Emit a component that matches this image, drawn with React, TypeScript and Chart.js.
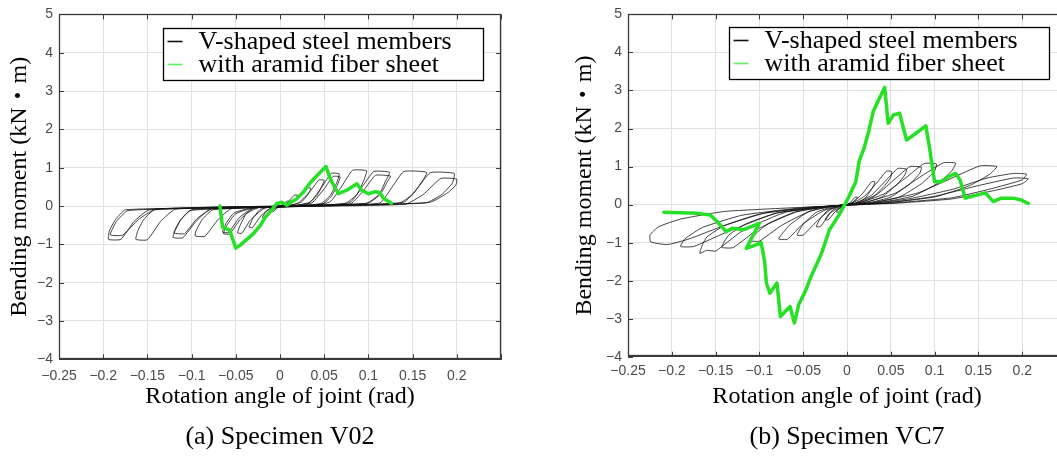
import { useEffect, useRef } from "react";
import { Chart, registerables } from "chart.js";

Chart.register(...registerables);

// ---------- text ----------
const legendLabels = ["V-shaped steel members", "with aramid fiber sheet"];
const xAxisTitle = "Rotation angle of joint (rad)";
const yAxisTitle = "Bending moment (kN・m)";
const captionV02 = "(a) Specimen V02";
const captionVC7 = "(b) Specimen VC7";

// ---------- axes ----------
const xMin = -0.25;
const xMax = 0.25;
const xStep = 0.05;
const yMin = -4;
const yMax = 5;
const yStep = 1;
const hiddenXTickLabels = [0.25];

// ---------- data: Specimen V02 ----------
const v02Steel: [number, number][] = [
  [0, 0], [0.005, 0.03], [0.01, 0.12], [0.008, 0.13], [0.003, 0.04], [0, -0.01], [-0.005, -0.04], [-0.01, -0.14], [-0.008, -0.15], [-0.003, -0.05], [0, 0],
  [0.008, 0.02], [0.015, 0.1], [0.02, 0.28], [0.016, 0.28], [0.008, 0.08], [0, 0], [-0.008, -0.03], [-0.015, -0.12], [-0.02, -0.3], [-0.016, -0.31], [-0.008, -0.1], [0, -0.01],
  [0.012, 0.02], [0.024, 0.1], [0.031, 0.28], [0.035, 0.46], [0.03, 0.47], [0.02, 0.2], [0.008, 0.03], [-0.01, -0.02], [-0.022, -0.08], [-0.03, -0.3], [-0.035, -0.55], [-0.031, -0.56], [-0.021, -0.24], [-0.008, -0.03],
  [0.015, 0.01], [0.032, 0.07], [0.042, 0.28], [0.048, 0.55], [0.05, 0.67], [0.044, 0.68], [0.034, 0.38], [0.02, 0.07], [0, -0.02], [-0.024, -0.04], [-0.038, -0.2], [-0.045, -0.5], [-0.048, -0.7], [-0.043, -0.71], [-0.034, -0.38], [-0.018, -0.06], [0, 0],
  [0.018, 0.01], [0.046, 0.06], [0.057, 0.28], [0.064, 0.6], [0.067, 0.84], [0.058, 0.85], [0.048, 0.52], [0.034, 0.1], [0.01, -0.01], [-0.03, -0.05], [-0.05, -0.2], [-0.06, -0.5], [-0.064, -0.72], [-0.057, -0.73], [-0.045, -0.35], [-0.03, -0.06], [0, -0.01],
  [0.02, 0.01], [0.048, 0.05], [0.058, 0.25], [0.065, 0.55], [0.068, 0.76], [0.06, 0.77], [0.05, 0.45], [0.036, 0.08], [0.01, -0.01], [-0.032, -0.05], [-0.052, -0.18], [-0.061, -0.45], [-0.065, -0.68], [-0.058, -0.69], [-0.046, -0.3], [-0.03, -0.05], [0, -0.01],
  [0.03, 0.01], [0.074, 0.07], [0.087, 0.3], [0.095, 0.68], [0.098, 0.92], [0.082, 0.93], [0.07, 0.52], [0.056, 0.1], [0.02, 0], [-0.04, -0.05], [-0.076, -0.1], [-0.088, -0.35], [-0.095, -0.65], [-0.096, -0.78], [-0.085, -0.79], [-0.07, -0.35], [-0.055, -0.07], [0, -0.01],
  [0.04, 0.02], [0.098, 0.07], [0.112, 0.3], [0.12, 0.68], [0.124, 0.88], [0.106, 0.9], [0.093, 0.5], [0.079, 0.09], [0.03, 0], [-0.05, -0.05], [-0.1, -0.1], [-0.112, -0.35], [-0.119, -0.66], [-0.121, -0.82], [-0.11, -0.83], [-0.095, -0.4], [-0.078, -0.07], [0, -0.01],
  [0.045, 0.02], [0.1, 0.08], [0.114, 0.32], [0.121, 0.62], [0.125, 0.78], [0.108, 0.8], [0.095, 0.42], [0.08, 0.06], [0.03, 0], [-0.05, -0.06], [-0.102, -0.12], [-0.113, -0.38], [-0.12, -0.7], [-0.108, -0.72], [-0.094, -0.33], [-0.076, -0.06], [0, -0.01],
  [0.05, 0.02], [0.134, 0.07], [0.15, 0.3], [0.161, 0.65], [0.166, 0.88], [0.14, 0.9], [0.127, 0.5], [0.113, 0.08], [0.04, 0], [-0.06, -0.05], [-0.142, -0.1], [-0.154, -0.35], [-0.161, -0.66], [-0.163, -0.87], [-0.15, -0.88], [-0.135, -0.4], [-0.118, -0.08], [0, -0.01],
  [0.06, 0.02], [0.165, 0.08], [0.183, 0.3], [0.195, 0.6], [0.197, 0.85], [0.17, 0.87], [0.155, 0.45], [0.14, 0.1], [0.05, 0], [-0.07, -0.05], [-0.175, -0.1], [-0.186, -0.35], [-0.193, -0.65], [-0.194, -0.87], [-0.18, -0.87], [-0.165, -0.4], [-0.148, -0.1], [-0.05, -0.02],
  [0.08, 0.02], [0.17, 0.1], [0.19, 0.35], [0.199, 0.55], [0.2, 0.7], [0.182, 0.72], [0.162, 0.3], [0.142, 0.05], [0.06, 0], [-0.08, -0.05], [-0.172, -0.12], [-0.185, -0.4], [-0.192, -0.75], [-0.178, -0.76], [-0.16, -0.35], [-0.14, -0.08], [0, 0],
];

const v02Aramid: [number, number][] = [
  [-0.068, 0.0], [-0.065, -0.55], [-0.057, -0.63], [-0.05, -1.1], [-0.045, -1.02], [-0.03, -0.72], [-0.022, -0.5], [-0.017, -0.3],
  [-0.01, -0.12], [-0.004, 0.06], [0.002, 0.1], [0.008, 0.02], [0.012, 0.1], [0.018, 0.17], [0.026, 0.35], [0.034, 0.6], [0.04, 0.75],
  [0.052, 1.03], [0.057, 0.7], [0.066, 0.32], [0.076, 0.42], [0.087, 0.58], [0.092, 0.42], [0.1, 0.32], [0.107, 0.37], [0.113, 0.35],
  [0.117, 0.2], [0.126, 0.07],
];

// ---------- data: Specimen VC7 ----------
const vc7Steel: [number, number][] = [
  [0, 0], [0.006, 0.05], [0.011, 0.15], [0.012, 0.2], [0.009, 0.19], [0.004, 0.06], [0, 0], [-0.006, -0.06], [-0.011, -0.16], [-0.012, -0.2], [-0.009, -0.19], [-0.004, -0.06], [0, 0],
  [0.01, 0.04], [0.02, 0.15], [0.028, 0.4], [0.032, 0.6], [0.028, 0.6], [0.018, 0.3], [0.006, 0.05], [-0.005, -0.03], [-0.015, -0.12], [-0.022, -0.28], [-0.025, -0.4], [-0.021, -0.39], [-0.012, -0.15], [0, 0],
  [0.015, 0.05], [0.03, 0.2], [0.043, 0.5], [0.05, 0.72], [0.051, 0.87], [0.045, 0.88], [0.035, 0.6], [0.02, 0.22], [0.005, 0.03], [-0.01, -0.04], [-0.022, -0.15], [-0.031, -0.38], [-0.035, -0.58], [-0.03, -0.57], [-0.018, -0.2], [0, 0],
  [0.02, 0.05], [0.04, 0.2], [0.058, 0.55], [0.066, 0.78], [0.068, 0.93], [0.058, 0.95], [0.045, 0.65], [0.028, 0.25], [0.008, 0.03], [-0.015, -0.05], [-0.035, -0.2], [-0.05, -0.52], [-0.057, -0.8], [-0.05, -0.8], [-0.035, -0.45], [-0.018, -0.12], [0, 0],
  [0.025, 0.05], [0.05, 0.2], [0.072, 0.55], [0.083, 0.82], [0.085, 0.98], [0.072, 1.0], [0.055, 0.68], [0.035, 0.28], [0.01, 0.03], [-0.02, -0.05], [-0.045, -0.2], [-0.066, -0.55], [-0.078, -0.9], [-0.068, -0.91], [-0.05, -0.5], [-0.025, -0.14], [0, 0],
  [0.03, 0.05], [0.06, 0.2], [0.085, 0.55], [0.1, 0.88], [0.102, 1.07], [0.088, 1.08], [0.068, 0.72], [0.042, 0.28], [0.012, 0.03], [-0.025, -0.06], [-0.06, -0.2], [-0.09, -0.5], [-0.105, -0.78], [-0.11, -0.95], [-0.1, -0.96], [-0.075, -0.55], [-0.04, -0.15], [0, 0],
  [0.035, 0.05], [0.075, 0.22], [0.105, 0.58], [0.12, 0.9], [0.124, 1.09], [0.11, 1.1], [0.085, 0.75], [0.055, 0.3], [0.015, 0.03], [-0.03, -0.06], [-0.08, -0.22], [-0.115, -0.5], [-0.135, -0.8], [-0.143, -1.12], [-0.13, -1.13], [-0.1, -0.62], [-0.055, -0.17], [0, 0],
  [0.04, 0.04], [0.1, 0.2], [0.14, 0.5], [0.163, 0.8], [0.171, 1.0], [0.152, 1.02], [0.12, 0.7], [0.08, 0.3], [0.02, 0.02], [-0.04, -0.07], [-0.1, -0.25], [-0.14, -0.55], [-0.16, -0.85], [-0.165, -1.05], [-0.168, -1.28], [-0.16, -1.2], [-0.15, -1.22], [-0.12, -0.7], [-0.07, -0.2], [0, 0],
  [0.05, 0.04], [0.12, 0.18], [0.165, 0.42], [0.2, 0.65], [0.205, 0.8], [0.19, 0.82], [0.16, 0.7], [0.12, 0.4], [0.07, 0.15], [0.02, 0.01], [-0.05, -0.08], [-0.12, -0.28], [-0.165, -0.6], [-0.185, -0.9], [-0.19, -1.1], [-0.175, -1.1], [-0.14, -0.75], [-0.08, -0.22], [0, 0],
  [0.05, 0.03], [0.12, 0.15], [0.17, 0.38], [0.2, 0.55], [0.207, 0.68], [0.19, 0.7], [0.15, 0.5], [0.1, 0.22], [0.04, 0.03], [-0.06, -0.08], [-0.14, -0.18], [-0.19, -0.38], [-0.215, -0.58], [-0.225, -0.8], [-0.224, -0.98], [-0.205, -1.05], [-0.18, -0.9], [-0.14, -0.55], [-0.09, -0.2], [0, 0],
];

const vc7Aramid: [number, number][] = [
  [-0.209, -0.2], [-0.17, -0.23], [-0.156, -0.27], [-0.148, -0.45], [-0.138, -0.71], [-0.131, -0.62], [-0.118, -0.66], [-0.1, -0.49],
  [-0.115, -1.15], [-0.103, -1.05], [-0.098, -1.0], [-0.094, -1.5], [-0.092, -2.06], [-0.088, -2.33], [-0.08, -2.06], [-0.076, -2.94],
  [-0.065, -2.68], [-0.06, -3.11], [-0.055, -2.62], [-0.048, -2.3], [-0.041, -1.89], [-0.029, -1.28], [-0.02, -0.66], [-0.008, -0.23],
  [0.002, 0.2], [0.01, 0.6], [0.014, 1.15], [0.02, 1.52], [0.025, 1.95], [0.03, 2.45], [0.036, 2.75], [0.043, 3.08], [0.047, 2.14],
  [0.053, 2.36], [0.06, 2.4], [0.068, 1.7], [0.076, 1.83], [0.09, 2.07], [0.094, 1.52], [0.1, 0.6], [0.107, 0.6], [0.117, 0.75],
  [0.124, 0.82], [0.129, 0.65], [0.135, 0.17], [0.148, 0.25], [0.158, 0.31], [0.167, 0.08], [0.176, 0.17], [0.19, 0.17], [0.199, 0.12],
  [0.207, 0.03],
];

// ---------- styles ----------
const SERIF = "'Liberation Serif', 'Noto Sans CJK JP', serif";
const SANS = "'Liberation Sans', Arial, sans-serif";
const STEEL_COLOR = "rgba(20,20,20,0.8)";
const ARAMID_COLOR = "#25e025";
const GRID_COLOR = "#e0e0e0";
const FRAME_COLOR = "#3a3a3a";
const TICK_COLOR = "#4a4a4a";

type PanelLayout = {
  pageLeft: number;
  width: number;
  padLeft: number;
  padRight: number;
  padTop: number;
  yWidth: number;
  xHeight: number;
  xTickPad: number;
  legendTop: number;
  legendRight: number;
  legendWidth: number;
};

const layoutV02: PanelLayout = {
  pageLeft: 0, width: 520, padLeft: 0, padRight: 19, padTop: 13, yWidth: 59, xHeight: 62.5, xTickPad: 8,
  legendTop: 14, legendRight: 18, legendWidth: 320,
};
const layoutVC7: PanelLayout = {
  pageLeft: 520, width: 560, padLeft: 45, padRight: 14, padTop: 14, yWidth: 63, xHeight: 65, xTickPad: 6,
  legendTop: 13, legendRight: 17, legendWidth: 320,
};

const fmt = (v: number) => {
  const r = Math.round(v * 100) / 100;
  const s = String(Math.abs(r));
  return r < 0 ? "\u2212" + s : s;
};

const frameTicksPlugin = {
  id: "frameTicks",
  afterDatasetsDraw(chart: any) {
    const { ctx, chartArea, scales } = chart;
    const { left, right, top, bottom } = chartArea;
    const xs = scales.x;
    const ys = scales.y;
    ctx.save();
    ctx.strokeStyle = FRAME_COLOR;
    ctx.lineWidth = 1;
    ctx.beginPath();
    xs.ticks.forEach((t: any) => {
      const p = Math.round(xs.getPixelForValue(t.value)) + 0.5;
      ctx.moveTo(p, bottom);
      ctx.lineTo(p, bottom - 5);
      ctx.moveTo(p, top);
      ctx.lineTo(p, top + 5);
    });
    ys.ticks.forEach((t: any) => {
      const p = Math.round(ys.getPixelForValue(t.value)) + 0.5;
      ctx.moveTo(left, p);
      ctx.lineTo(left + 5, p);
      ctx.moveTo(right, p);
      ctx.lineTo(right - 5, p);
    });
    ctx.stroke();
    ctx.lineWidth = 1.3;
    ctx.strokeRect(Math.round(left) + 0.5, Math.round(top) + 0.5, Math.round(right - left) - 1, Math.round(bottom - top) - 1);
    ctx.restore();
  },
};

const boxLegendPlugin = {
  id: "boxLegend",
  afterDraw(chart: any, _args: any, opts: any) {
    const { ctx, chartArea } = chart;
    const w = opts.width;
    const h = 52;
    const x0 = Math.round(chartArea.right - opts.right - w) + 0.5;
    const y0 = Math.round(chartArea.top + opts.top) + 0.5;
    ctx.save();
    ctx.fillStyle = "#ffffff";
    ctx.fillRect(x0, y0, w, h);
    ctx.strokeStyle = "#000000";
    ctx.lineWidth = 1.3;
    ctx.strokeRect(x0, y0, w, h);
    ctx.font = `26px ${SERIF}`;
    ctx.textBaseline = "middle";
    ctx.textAlign = "left";
    chart.data.datasets.forEach((ds: any, i: number) => {
      const cy = y0 + 13 + i * 23;
      ctx.strokeStyle = i === 0 ? "#111111" : "#5ef05e";
      ctx.lineWidth = 1.6;
      ctx.beginPath();
      ctx.moveTo(x0 + 4, cy);
      ctx.lineTo(x0 + 19, cy);
      ctx.stroke();
      ctx.fillStyle = "#000000";
      ctx.fillText(ds.label, x0 + 35, cy + 1);
    });
    ctx.restore();
  },
};

function Panel({ layout, steel, aramid, caption }: { layout: PanelLayout; steel: [number, number][]; aramid: [number, number][]; caption: string }) {
  const ref = useRef<HTMLCanvasElement>(null);
  useEffect(() => {
    const chart = new Chart(ref.current as HTMLCanvasElement, {
      type: "scatter",
      data: {
        datasets: [
          {
            label: legendLabels[0],
            data: steel.map(([x, y]) => ({ x, y })),
            showLine: true,
            borderColor: STEEL_COLOR,
            borderWidth: 1,
            pointRadius: 0,
            tension: 0.15,
            order: 2,
          },
          {
            label: legendLabels[1],
            data: aramid.map(([x, y]) => ({ x, y })),
            showLine: true,
            borderColor: ARAMID_COLOR,
            borderWidth: 3.5,
            pointRadius: 0,
            tension: 0,
            borderJoinStyle: "round",
            borderCapStyle: "round",
            order: 1,
          },
        ],
      },
      options: {
        responsive: false,
        animation: false,
        devicePixelRatio: 1,
        layout: { padding: { left: layout.padLeft, right: layout.padRight, top: layout.padTop, bottom: 0 } },
        scales: {
          x: {
            type: "linear",
            min: xMin,
            max: xMax,
            afterFit: (s: any) => { s.height = layout.xHeight; },
            ticks: {
              stepSize: xStep,
              autoSkip: false,
              maxRotation: 0,
              padding: layout.xTickPad,
              color: TICK_COLOR,
              font: { family: SANS, size: 14 },
              callback: (v: any) => (hiddenXTickLabels.some((h) => Math.abs(h - Number(v)) < 1e-9) ? "" : fmt(Number(v))),
            },
            grid: { color: GRID_COLOR, drawTicks: false },
            border: { display: true, color: FRAME_COLOR },
            title: {
              display: true,
              text: xAxisTitle,
              color: "#000",
              font: { family: SERIF, size: 24 },
              padding: { top: 0, bottom: 10.5 },
            },
          },
          y: {
            type: "linear",
            min: yMin,
            max: yMax,
            afterFit: (s: any) => { s.width = layout.yWidth; },
            ticks: {
              stepSize: yStep,
              padding: 6,
              color: TICK_COLOR,
              font: { family: SANS, size: 14 },
              callback: (v: any) => fmt(Number(v)),
            },
            grid: { color: GRID_COLOR, drawTicks: false },
            border: { display: true, color: FRAME_COLOR },
            title: {
              display: true,
              text: yAxisTitle,
              color: "#000",
              font: { family: SERIF, size: 24 },
              padding: { top: 5.6, bottom: 0 },
            },
          },
        },
        plugins: {
          legend: { display: false },
          tooltip: { enabled: false },
          title: {
            display: true,
            text: caption,
            position: "bottom",
            fullSize: false,
            color: "#000",
            font: { family: SERIF, size: 26, weight: "normal" },
            padding: { top: 0, bottom: 3 },
          },
          boxLegend: { top: layout.legendTop, right: layout.legendRight, width: layout.legendWidth },
        } as any,
      },
      plugins: [frameTicksPlugin, boxLegendPlugin],
    });
    return () => chart.destroy();
  }, []);
  return (
    <canvas
      ref={ref}
      width={layout.width}
      height={456}
      style={{ position: "absolute", left: layout.pageLeft, top: 0, width: layout.width, height: 456 }}
    />
  );
}

export default function App() {
  return (
    <div style={{ position: "absolute", left: 0, top: 0, width: 1057, height: 456, overflow: "hidden", background: "#fff" }}>
      <Panel layout={layoutV02} steel={v02Steel} aramid={v02Aramid} caption={captionV02} />
      <Panel layout={layoutVC7} steel={vc7Steel} aramid={vc7Aramid} caption={captionVC7} />
    </div>
  );
}
